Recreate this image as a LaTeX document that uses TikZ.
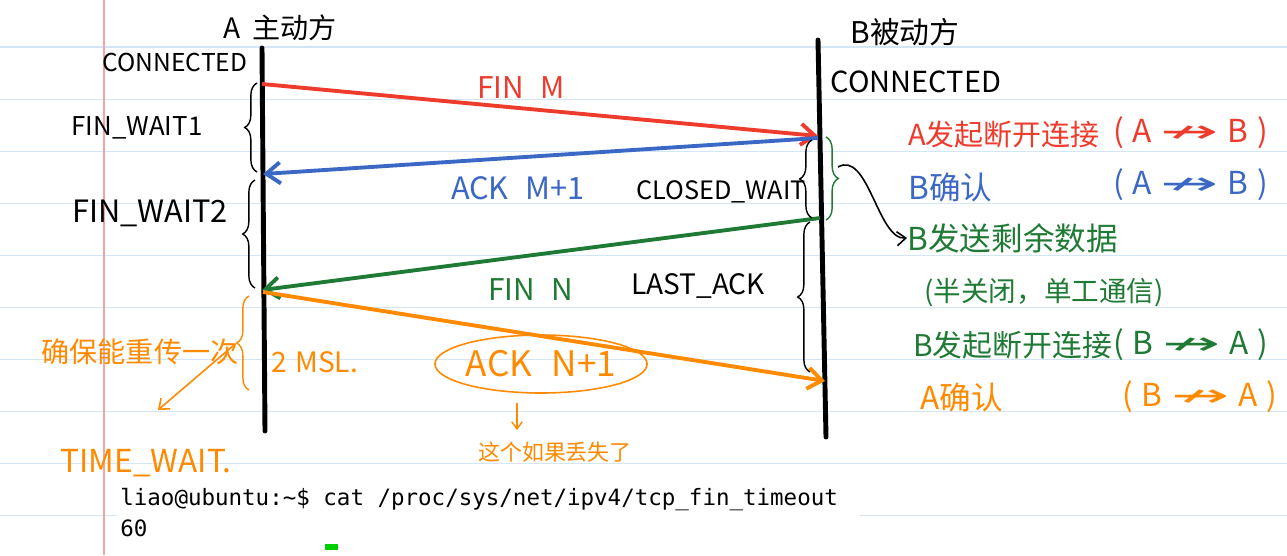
\documentclass[tikz,border=0pt]{standalone}
\usepackage{fontspec}
\setmainfont{Noto Sans CJK SC}
\newfontfamily\termfont{DejaVu Sans Mono}
\newfontfamily\symfont{DejaVu Sans}
\usetikzlibrary{arrows.meta,positioning,shapes.geometric,decorations.pathreplacing}
\definecolor{PenRed}     {HTML}{EE3B2C}
\definecolor{PenBlue}    {HTML}{3A68C4}
\definecolor{PenGreen}   {HTML}{1F7A35}
\definecolor{PenOrange}  {HTML}{FF8A00}
\definecolor{RuleBlue}   {HTML}{D3E6F6}
\definecolor{MarginRed}  {HTML}{F5A3A3}
\definecolor{CursorGreen}{HTML}{00D000}
\newcommand{\notarr}{{\symfont\scalebox{2.2}[1]{↛}}}

\begin{document}
\begin{tikzpicture}[x=0.02cm,y=-0.02cm,
    lbl/.style={inner sep=0pt,font=\fontsize{17}{20}\selectfont},
    note/.style={inner sep=0pt,anchor=west,font=\fontsize{18}{22}\selectfont},
    life/.style={line width=2.8pt,line cap=round},
    msg/.style={line width=2.2pt,-{Straight Barb[length=8pt,width=12pt]}},
    brc/.style={decorate,decoration={brace,amplitude=7pt},line width=0.8pt},
    rule/.style={RuleBlue,line width=0.6pt}]
  \useasboundingbox (0,0) rectangle (1287,555);
  \fill[white] (0,0) rectangle (1287,555);
  % notebook paper
  \foreach \k in {0,...,9}
    \draw[rule] (0,{47+52.1*\k}) -- (1287,{47+52.1*\k});
  \fill[white] (117,480) rectangle (860,555);
  \draw[MarginRed,line width=0.8pt] (104,0) -- (104,555);

  % the two ends
  \coordinate (Atop) at (262,48);  \coordinate (Abot) at (265,431);
  \coordinate (Btop) at (818,40);  \coordinate (Bbot) at (826,437);
  \draw[life] (Atop) -- (Abot);
  \draw[life] (Btop) -- (Bbot);
  \node[lbl,font=\fontsize{16}{18}\selectfont] (hdA) at (280,28) {A\;\,主动方};
  \node[lbl] (hdB) at (905,32) {B被动方};
  \node[lbl,font=\fontsize{14}{18}\selectfont] (connA) at (175,62) {CONNECTED};
  \node[lbl,font=\fontsize{16.5}{20}\selectfont] (connB) at (916,82) {CONNECTED};

  % messages
  \coordinate (a1) at (262,84);  \coordinate (b1) at (818,136);
  \coordinate (b2) at (818,138); \coordinate (a2) at (263,174);
  \coordinate (b3) at (820,218); \coordinate (a3) at (262,290);
  \coordinate (a4) at (263,292); \coordinate (b4) at (825,381);
  \draw[msg,PenRed]    (a1) -- (b1);
  \draw[msg,PenBlue]   (b2) -- (a2);
  \draw[msg,PenGreen]  (b3) -- (a3);
  \draw[msg,PenOrange] (a4) -- (b4);
  \node[lbl,PenRed]   (finm)  at (521,88)  {FIN\;\;M};
  \node[lbl,PenBlue,font=\fontsize{17.5}{20}\selectfont] (ackm) at (518,188) {ACK\;\;M+1};
  \node[lbl,PenGreen] (finn)  at (531,290) {FIN\;\;N};
  \node[ellipse,draw=PenOrange,line width=0.9pt,minimum width=3.64cm,minimum height=1.16cm,
        inner sep=0pt,text=PenOrange,font=\fontsize{20}{22}\selectfont] (ackn) at (541,364) {ACK\;\;N+1};

  % states of A
  \draw[brc] (257,172) -- (257,83);
  \draw[brc] (255,288) -- (255,180);
  \draw[brc,PenOrange] (249,390) -- (249,296);
  \node[lbl,font=\fontsize{14.7}{18}\selectfont] (fw1) at (137,128) {FIN\_WAIT1};
  \node[lbl,font=\fontsize{17.5}{20}\selectfont] (fw2) at (150,213) {FIN\_WAIT2};
  \node[lbl,PenOrange,font=\fontsize{16}{18}\selectfont] (msl) at (315,362) {2\;MSL.};
  \node[lbl,PenOrange,font=\fontsize{16}{18}\selectfont] (resend) at (140,352) {确保能重传一次};
  \node[lbl,PenOrange,font=\fontsize{18}{20}\selectfont] (tw) at (146,463) {TIME\_WAIT.};
  \coordinate (twtip) at (234,345); \coordinate (twend) at (158,410);
  \draw[PenOrange,line width=0.9pt,-{Straight Barb[length=5pt,width=8pt]}] (twtip) -- (twend);

  % states of B
  \draw[brc] (812,218) -- (812,140);
  \draw[brc] (810,372) -- (810,222);
  \draw[brc,PenGreen] (826,137) -- (826,220);
  \node[lbl,font=\fontsize{14.4}{18}\selectfont] (cw) at (721,192) {CLOSED\_WAIT};
  \node[lbl,font=\fontsize{16}{18}\selectfont] (la) at (698,286) {LAST\_ACK};

  % lost ACK
  \node[lbl,PenOrange,font=\fontsize{12.5}{14}\selectfont] (lost) at (555,452) {这个如果丢失了};
  \coordinate (lost1) at (517,403); \coordinate (lost2) at (517,430);
  \draw[PenOrange,line width=0.8pt,-{Straight Barb[length=4pt,width=6pt]}] (lost1) -- (lost2);

  % notes on the right
  \node[note,PenRed,font=\fontsize{16.5}{20}\selectfont] (nA1) at (908,135) {A发起断开连接};
  \node[note,PenRed]    (nA1x) at (1113,133) {(\;A\;\notarr\;B\;)};
  \node[note,PenBlue]   (nB1)  at (908,187)  {B确认};
  \node[note,PenBlue]   (nB1x) at (1113,185) {(\;A\;\notarr\;B\;)};
  \node[note,PenGreen]  (nB2)  at (907,238)  {B发送剩余数据};
  \node[note,PenGreen,font=\fontsize{15.7}{20}\selectfont] (nB2h) at (924,293) {(半关闭，单工通信)};
  \node[note,PenGreen,font=\fontsize{17}{20}\selectfont] (nB3) at (913,345) {B发起断开连接};
  \node[note,PenGreen]  (nB3x) at (1113,345) {(\;B\;\notarr\;A\;)};
  \node[note,PenOrange] (nA2)  at (920,397)  {A确认};
  \node[note,PenOrange] (nA2x) at (1122,397) {(\;B\;\notarr\;A\;)};
  \coordinate (gtip) at (838,167);
  \draw[line width=0.9pt,-{Straight Barb[length=5pt,width=8pt]}]
    (gtip) .. controls (868,150) and (878,240) .. (nB2.west);

  % terminal
  \node[inner sep=0pt,anchor=west,font=\termfont\fontsize{12.8}{15}\selectfont] (cmd) at (120,500)
    {liao@ubuntu:\textasciitilde\$ cat /proc/sys/net/ipv4/tcp\_fin\_timeout};
  \node[inner sep=0pt,anchor=west,font=\termfont\fontsize{12.8}{15}\selectfont] (out) at (120,528) {60};
  \node[fill=CursorGreen,inner sep=0pt,minimum width=0.26cm,minimum height=0.13cm] (cursor) at (331,547) {};
\end{tikzpicture}
\end{document}
